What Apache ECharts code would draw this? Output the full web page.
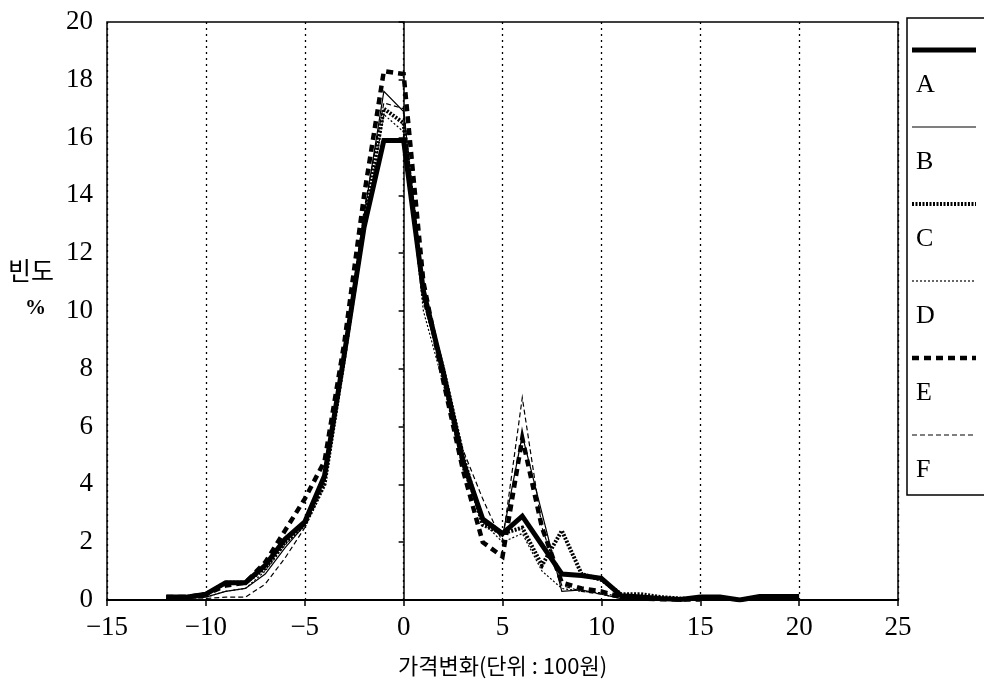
<!DOCTYPE html>
<html>
<head>
<meta charset="utf-8">
<script src="https://cdn.jsdelivr.net/npm/echarts@6/dist/echarts.min.js"></script>
<style>
html,body{margin:0;padding:0;background:#fff;}
#c{width:984px;height:682px;}
</style>
</head>
<body>
<div id="c"></div>
<script>
// ---- data ----
const xValues = [-12,-11,-10,-9,-8,-7,-6,-5,-4,-3,-2,-1,0,1,2,3,4,5,6,7,8,9,10,11,12,13,14,15,16,17,18,19,20];
const seriesNames = ['A','B','C','D','E','F'];
const valuesA = [0.1,0.1,0.2,0.6,0.6,1.2,2.1,2.7,4.3,8.5,12.9,15.9,15.9,10.7,7.9,4.8,2.8,2.3,2.9,1.9,0.9,0.85,0.75,0.15,0.1,0.05,0.02,0.1,0.1,0.0,0.12,0.12,0.12];
const valuesB = [0.05,0.05,0.1,0.3,0.4,0.9,1.8,2.6,4.2,8.6,13.3,17.6,16.9,10.8,7.6,4.6,2.7,2.2,5.7,3.0,0.3,0.35,0.2,0.05,0.02,0.02,0.02,0.02];
const valuesC = [0.1,0.1,0.2,0.6,0.6,1.1,2.0,2.6,4.0,8.4,13.0,17.0,16.5,10.5,8.0,5.0,2.6,2.3,2.5,1.2,2.4,0.9,0.7,0.2,0.2,0.1,0.05,0.03];
const valuesD = [0.05,0.05,0.1,0.3,0.4,1.0,1.9,2.6,4.1,8.3,12.8,16.8,16.2,10.0,7.5,4.5,2.7,2.0,2.3,1.0,0.4,0.3,0.25,0.1,0.05,0.03,0.02,0.02];
const valuesE = [0.1,0.1,0.2,0.5,0.6,1.3,2.4,3.5,4.8,8.9,14.0,18.3,18.2,11.0,7.6,4.5,2.0,1.5,5.6,2.5,0.6,0.4,0.3,0.1,0.05,0.03,0.02,0.02];
const valuesF = [0.0,0.0,0.05,0.1,0.1,0.55,1.45,2.5,4.0,8.3,13.5,17.2,17.0,10.3,7.9,5.2,3.5,2.0,7.0,2.5,0.5,0.3,0.2,0.05,0.03,0.02,0.02,0.02];
const xTicks = [-15,-10,-5,0,5,10,15,20,25];
const yTicks = [0,2,4,6,8,10,12,14,16,18,20];
const xTitle = '가격변화(단위 : 100원)';
const yTitle = '빈도';
const yUnit = '%';

// ---- styles ----
const styles = [
  {width:5, type:'solid'},
  {width:1.2, type:'solid'},
  {width:4, type:[2,1.5]},
  {width:1.2, type:[2,2]},
  {width:4.5, type:[7,5]},
  {width:1.2, type:[5,3]}
];
const allValues = [valuesA,valuesB,valuesC,valuesD,valuesE,valuesF];
const serif = '"Liberation Serif","DejaVu Serif",serif';

const series = seriesNames.map((n,i)=>({
  name:n, type:'line', symbol:'none', animation:false,
  data: allValues[i].map((v,k)=>[xValues[k], v]),
  lineStyle:{color:'#000', width:styles[i].width, type:styles[i].type, cap:'butt', join:'miter'},
  z: 10 - (styles[i].width>2?0:1)
}));

// legend via graphic
const legendGraphics = [{
  type:'rect', shape:{x:907,y:18,width:80,height:477},
  style:{fill:'#fff', stroke:'#000', lineWidth:1.5}
}];
seriesNames.forEach((n,i)=>{
  const y0 = 50 + i*77;
  legendGraphics.push({
    type:'line', shape:{x1:912,y1:y0,x2:976,y2:y0},
    style:{stroke:'#000', lineWidth:styles[i].width, lineDash: styles[i].type==='solid'?null:styles[i].type}
  });
  legendGraphics.push({
    type:'text', x:916, y:y0+22,
    style:{text:n, font:'26px '+serif, fill:'#000'}
  });
});

const chart = echarts.init(document.getElementById('c'), null, {renderer:'canvas'});
chart.setOption({
  backgroundColor:'#fff',
  animation:false,
  grid:{left:107, right:86, top:22, bottom:82, show:true, borderColor:'#000', borderWidth:1.5,
        containLabel:false, outerBoundsMode:'none'},
  xAxis:{
    type:'value', min:xTicks[0], max:xTicks[xTicks.length-1], interval:5,
    axisLine:{show:true, onZero:false, lineStyle:{color:'#000', width:2}},
    axisTick:{show:true, length:6, lineStyle:{color:'#000', width:1.5}},
    axisLabel:{color:'#000', fontFamily:serif, fontSize:27, margin:14,
      formatter:v=> v<0 ? '\u2212'+Math.abs(v) : String(v)},
    splitLine:{show:true, lineStyle:{color:'#000', type:[2,4], width:1.3}},
    name:xTitle, nameLocation:'middle', nameGap:55,
    nameTextStyle:{color:'#000', fontSize:22, fontFamily:'"Noto Sans CJK KR",sans-serif'}
  },
  yAxis:{
    type:'value', min:0, max:20, interval:2,
    axisLine:{show:true, lineStyle:{color:'#000', width:1.5}},
    axisTick:{show:true, length:5, lineStyle:{color:'#000', width:1.5}},
    axisLabel:{color:'#000', fontFamily:serif, fontSize:27, margin:14},
    splitLine:{show:false}
  },
  graphic:[
    {type:'text', x:8, y:258, style:{text:yTitle, font:'25px "Noto Sans CJK KR",sans-serif', fill:'#000'}},
    {type:'text', x:25, y:298, style:{text:yUnit, font:'bold 21px '+serif, fill:'#000'}},
    ...legendGraphics
  ],
  series:series
});
</script>
</body>
</html>
